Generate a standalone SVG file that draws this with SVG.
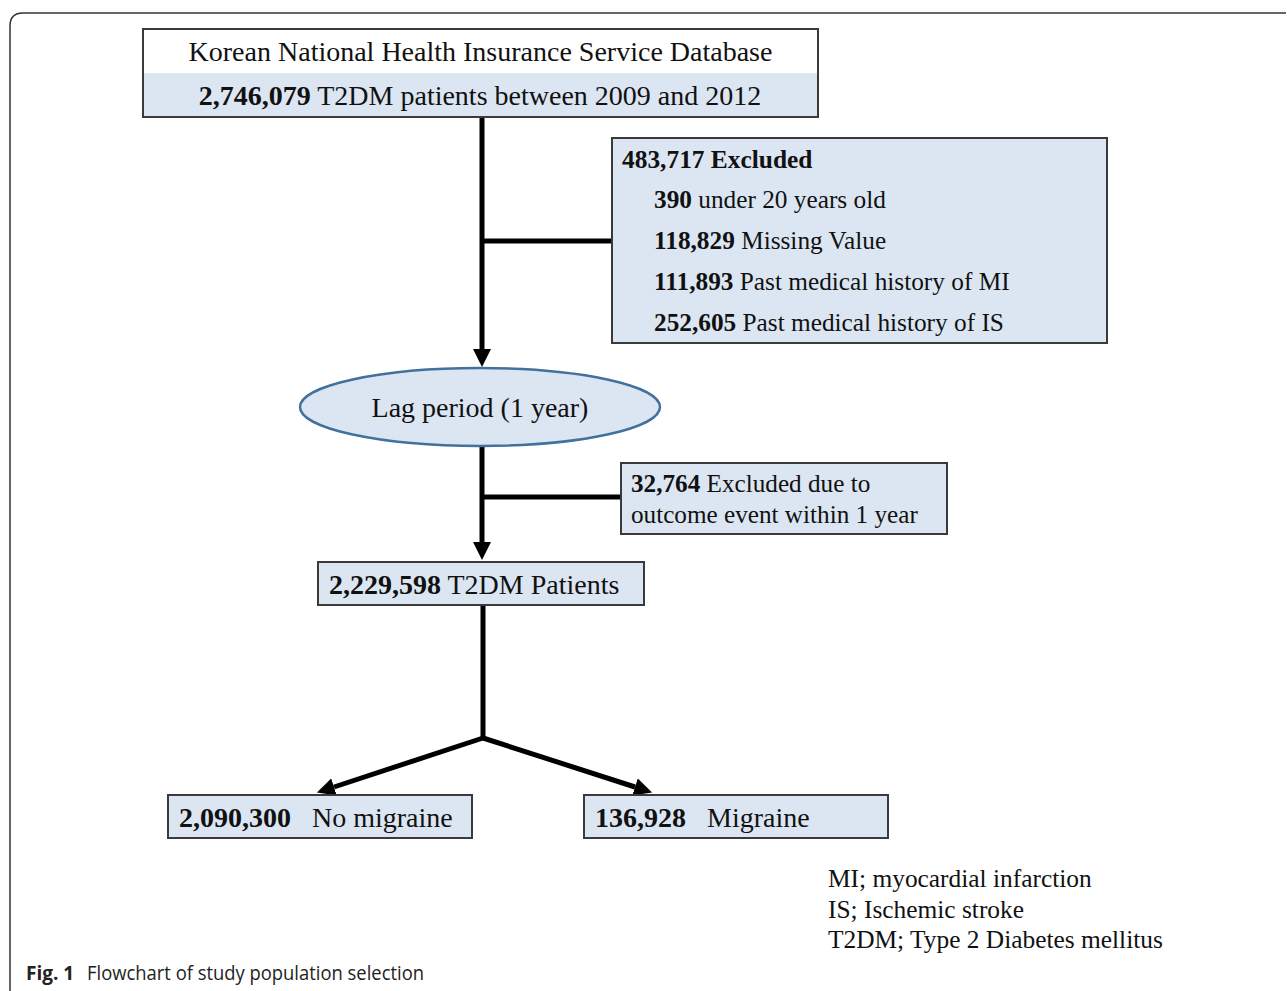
<svg xmlns="http://www.w3.org/2000/svg" width="1287" height="991" viewBox="0 0 1287 991">
<defs>
<style>
.box{fill:#dce6f2;stroke:#3a3a3a;stroke-width:2}
.t{font-family:"Liberation Serif","Times New Roman",serif;fill:#111}
.b{font-weight:bold}
.con{stroke:#000;stroke-width:5;fill:none}
.frame{fill:none;stroke:#333;stroke-width:1.5}
.cap{font-family:"Open Sans","Noto Sans",sans-serif;fill:#222}
</style>
<marker id="ah" markerUnits="userSpaceOnUse" markerWidth="20" markerHeight="20" refX="0" refY="9" orient="auto">
<path d="M0,0 L18,9 L0,18 z" fill="#000"/>
</marker>
</defs>
<rect width="1287" height="991" fill="#fff"/>
<path class="frame" d="M10,991 V26 Q10,13 23,13 H1286"/>

<g id="connectors">
<line class="con" x1="482" y1="117" x2="482" y2="349" marker-end="url(#ah)"/>
<line class="con" x1="482" y1="241" x2="612" y2="241"/>
<line class="con" x1="482" y1="446" x2="482" y2="542" marker-end="url(#ah)"/>
<line class="con" x1="482" y1="497" x2="621" y2="497"/>
<polyline class="con" points="483,605 483,738"/>
<line class="con" x1="483" y1="738" x2="334" y2="787" marker-end="url(#ah)"/>
<line class="con" x1="483" y1="738" x2="635" y2="787" marker-end="url(#ah)"/>
</g>

<g id="source">
<rect x="143" y="29" width="675" height="88" fill="#fff" stroke="none"/>
<rect x="143" y="73" width="675" height="44" fill="#dce6f2" stroke="none"/>
<rect x="143" y="29" width="675" height="88" fill="none" stroke="#3a3a3a" stroke-width="2"/>
<text class="t" x="480.5" y="61" font-size="28" text-anchor="middle">Korean National Health Insurance Service Database</text>
<text class="t" x="480" y="105" font-size="28" text-anchor="middle"><tspan class="b">2,746,079</tspan> T2DM patients between 2009 and 2012</text>
</g>

<g id="excluded1">
<rect class="box" x="612" y="138" width="495" height="205"/>
<text class="t b" x="622" y="168" font-size="25.4">483,717 Excluded</text>
<text class="t" x="654" y="208" font-size="25.3"><tspan class="b">390</tspan> under 20 years old</text>
<text class="t" x="654" y="249" font-size="25.3"><tspan class="b">118,829</tspan> Missing Value</text>
<text class="t" x="654" y="290" font-size="25.3"><tspan class="b">111,893</tspan> Past medical history of MI</text>
<text class="t" x="654" y="331" font-size="25.3"><tspan class="b">252,605</tspan> Past medical history of IS</text>
</g>

<g id="lag">
<ellipse cx="480" cy="407" rx="180" ry="39" fill="#dce6f2" stroke="#41719c" stroke-width="2.5"/>
<text class="t" x="480" y="417" font-size="28" text-anchor="middle">Lag period (1 year)</text>
</g>

<g id="excluded2">
<rect class="box" x="621" y="463" width="326" height="71"/>
<text class="t" x="631" y="492" font-size="25.2"><tspan class="b">32,764</tspan> Excluded due to</text>
<text class="t" x="631" y="523" font-size="25.2">outcome event within 1 year</text>
</g>

<g id="patients">
<rect class="box" x="318" y="562" width="326" height="43"/>
<text class="t" x="329" y="594" font-size="28"><tspan class="b">2,229,598</tspan> T2DM Patients</text>
</g>

<g id="nomigraine">
<rect class="box" x="168" y="795" width="304" height="43"/>
<text class="t" x="179" y="827" font-size="28" xml:space="preserve"><tspan class="b">2,090,300</tspan>   No migraine</text>
</g>

<g id="migraine">
<rect class="box" x="584" y="795" width="304" height="43"/>
<text class="t" x="595" y="827" font-size="28" xml:space="preserve"><tspan class="b">136,928</tspan>   Migraine</text>
</g>

<g id="legend">
<text class="t" x="828" y="887" font-size="25.4">MI; myocardial infarction</text>
<text class="t" x="828" y="918" font-size="25.4">IS; Ischemic stroke</text>
<text class="t" x="828" y="948" font-size="25.4">T2DM; Type 2 Diabetes mellitus</text>
</g>

<g id="caption">
<text class="cap" x="26" y="980" font-size="19" font-weight="bold">Fig. 1</text>
<text class="cap" x="87" y="980" font-size="19.5" textLength="337" lengthAdjust="spacingAndGlyphs">Flowchart of study population selection</text>
</g>
</svg>
